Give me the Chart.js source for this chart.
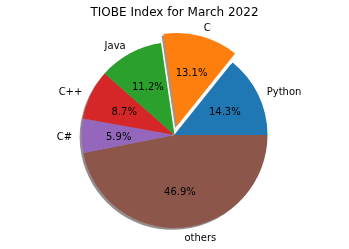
<!DOCTYPE html>
<html>
<head>
<meta charset="utf-8">
<script src="https://cdn.jsdelivr.net/npm/chart.js@4/dist/chart.umd.min.js"></script>
<style>
  html, body { margin: 0; padding: 0; background: #fff; }
  #wrap { width: 349px; height: 249px; }
</style>
</head>
<body>
<div id="wrap"><canvas id="pieChart"></canvas></div>
<script>
// TIOBE index, March 2022 (rating in %)
const languages = ['Python', 'C', 'Java', 'C++', 'C#', 'others'];
const ratings = [14.26, 13.06, 11.19, 8.66, 5.92, 46.91];
const colors = ['#1f77b4', '#ff7f0e', '#2ca02c', '#d62728', '#9467bd', '#8c564b'];
const explode = [0, 0.1, 0, 0, 0, 0];

const FONT = "'DejaVu Sans', sans-serif";
const total = ratings.reduce((a, b) => a + b, 0);

// matplotlib goes counter-clockwise from 3 o'clock, Chart.js clockwise,
// so feed the slices in reverse order and start at 90 degrees
const rev = arr => arr.slice().reverse();

function hexToRgb(hex) {
  const n = parseInt(hex.slice(1), 16);
  return [(n >> 16) & 255, (n >> 8) & 255, n & 255];
}

const pieExtras = {
  id: 'pieExtras',
  afterDatasetsUpdate(chart) {
    // explode slices outwards along their middle angle
    const meta = chart.getDatasetMeta(0);
    const ex = rev(explode);
    meta.data.forEach((el, i) => {
      if (!ex[i]) return;
      const mid = (el.startAngle + el.endAngle) / 2;
      el.x += Math.cos(mid) * ex[i] * el.outerRadius;
      el.y += Math.sin(mid) * ex[i] * el.outerRadius;
    });
  },
  beforeDatasetsDraw(chart) {
    // shadow, like matplotlib's shadow=True
    const ctx = chart.ctx;
    const meta = chart.getDatasetMeta(0);
    const cols = rev(colors);
    ctx.save();
    meta.data.forEach((el, i) => {
      const r = el.outerRadius;
      const off = 0.02 * r;
      const [cr, cg, cb] = hexToRgb(cols[i]).map(v => Math.round(v * 0.3));
      ctx.fillStyle = `rgba(${cr},${cg},${cb},0.5)`;
      ctx.beginPath();
      ctx.moveTo(el.x - off, el.y + off);
      ctx.arc(el.x - off, el.y + off, r, el.startAngle, el.endAngle);
      ctx.closePath();
      ctx.fill();
    });
    ctx.restore();
  },
  afterDatasetsDraw(chart) {
    const ctx = chart.ctx;
    const meta = chart.getDatasetMeta(0);
    const names = rev(languages);
    const vals = rev(ratings);
    ctx.save();
    ctx.font = '10px ' + FONT;
    ctx.fillStyle = '#000';
    ctx.textBaseline = 'middle';
    meta.data.forEach((el, i) => {
      const r = el.outerRadius;
      const mid = (el.startAngle + el.endAngle) / 2;
      const c = Math.cos(mid), s = Math.sin(mid);
      ctx.textAlign = c > 0 ? 'left' : 'right';
      ctx.fillText(names[i], el.x + 1.1 * r * c, el.y + 1.1 * r * s + 1.5);
      ctx.textAlign = 'center';
      const pct = (vals[i] / total * 100).toFixed(1) + '%';
      ctx.fillText(pct, el.x + 0.6 * r * c, el.y + 0.6 * r * s + 1.5);
    });
    ctx.restore();
  }
};

new Chart(document.getElementById('pieChart'), {
  type: 'pie',
  data: {
    labels: rev(languages),
    datasets: [{
      data: rev(ratings),
      backgroundColor: rev(colors),
      borderWidth: 0
    }]
  },
  options: {
    responsive: true,
    maintainAspectRatio: false,
    animation: false,
    rotation: 90,
    radius: 93,
    layout: { padding: { top: 0, bottom: 5.4, left: 0, right: 0 } },
    plugins: {
      legend: { display: false },
      tooltip: { enabled: false },
      title: {
        display: true,
        text: 'TIOBE Index for March 2022',
        color: '#000',
        font: { family: FONT, size: 12, weight: 'normal', lineHeight: 1.2 },
        padding: { top: 6, bottom: 6 }
      }
    }
  },
  plugins: [pieExtras]
});
</script>
</body>
</html>
